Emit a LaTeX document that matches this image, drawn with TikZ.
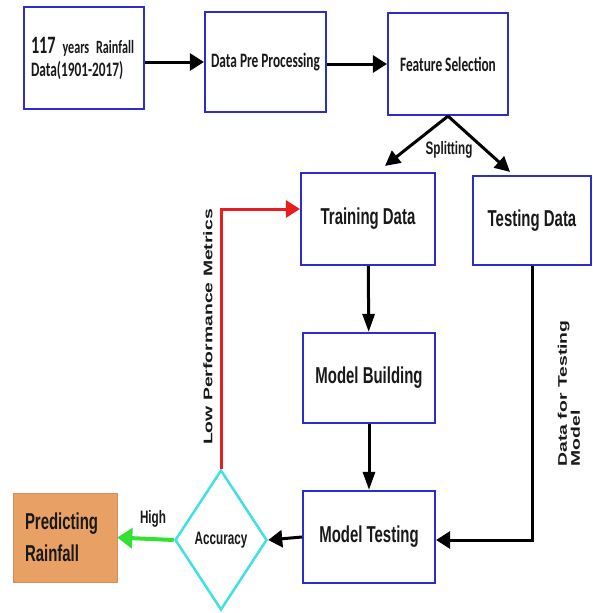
\documentclass[tikz,border=0pt]{standalone}
\usepackage{fontspec}
\usetikzlibrary{arrows.meta,shapes.geometric}
\newfontfamily\boxfont[FakeStretch=0.65]{Liberation Sans}
\newfontfamily\calfont[FakeStretch=0.65]{Carlito}
\newfontfamily\sidefont[FakeStretch=1.55]{Liberation Sans}
\definecolor{boxblue}{RGB}{45,45,205}
\definecolor{accyan}{RGB}{64,224,228}
\definecolor{predorange}{RGB}{232,160,100}
\definecolor{lowred}{RGB}{232,30,30}
\definecolor{highgreen}{RGB}{50,225,50}

\begin{document}
\begin{tikzpicture}[x=1pt,y=-1pt,
  stage/.style={draw=boxblue, line width=2.2pt, inner sep=0pt, text=black!90},
  big/.style={font=\boxfont\bfseries\fontsize{23}{26}\selectfont},
  small/.style={font=\boxfont\bfseries\fontsize{18}{20}\selectfont, text=black!90},
  top/.style={font=\calfont\bfseries\fontsize{20.5}{23}\selectfont},
  side/.style={font=\sidefont\bfseries\fontsize{12.5}{13}\selectfont, text=black!90},
  flow/.style={line width=3pt, -{Triangle[length=14pt,width=17pt]}},
  down/.style={line width=3pt, -{Triangle[length=18pt,width=12pt]}},
  fork/.style={line width=3pt, -{Triangle[length=15pt,width=15pt]}},
]
\fill[white] (0,0) rectangle (593,613);
\useasboundingbox (0,0) rectangle (593,613);

\node[stage, top, minimum width=120pt, minimum height=102pt, text width=106pt, align=left] (rain) at (84,58)
  {{\fontsize{25}{23}\selectfont 117} {\fontsize{18.7}{23}\selectfont years Rainfall}\\Data(1901-2017)};
\node[stage, top, minimum width=121pt, minimum height=100pt] (prep) at (265.5,62) {Data Pre Processing};
\node[stage, top, minimum width=120pt, minimum height=102pt] (feat) at (448,64) {Feature Selection};

\node[stage, big, minimum width=134pt, minimum height=92pt] (train) at (368,219) {Training Data};
\node[stage, big, minimum width=118pt, minimum height=89pt] (tdata) at (532,220.5) {Testing Data};
\node[stage, big, minimum width=132pt, minimum height=90pt] (build) at (369,378) {Model Building};
\node[stage, big, minimum width=132pt, minimum height=92pt] (mtest) at (369,537) {Model Testing};

\node[diamond, draw=accyan, line width=2.5pt, inner sep=0pt, minimum width=92pt, minimum height=140pt, small] (acc) at (221,540) {Accuracy};
\node[fill=predorange, draw=predorange!90!black, line width=0.6pt, inner sep=0pt, minimum width=104pt, minimum height=89pt,
  text width=80pt, align=left, font=\boxfont\bfseries\fontsize{23}{32}\selectfont, text=black!90] (pred) at (65,537.5) {Predicting\\Rainfall};

\node[small] (split) at (449,150) {Splitting};
\node[small] (high) at (153,519) {High};
\node[side, rotate=90] (low) at (208,327) {Low Performance Metrics};
\node[side, rotate=90, align=left] (dtest) at (569,393.5) {Data for Testing\\Model};

\draw[flow] (rain.east |- prep.west) -- (prep.west);
\draw[flow] (prep.east |- feat.west) -- (feat.west);
\draw[fork] (feat.south) -- ([xshift=17pt,yshift=6pt]train.north);
\draw[fork] (feat.south) -- ([xshift=-22pt,yshift=3pt]tdata.north);
\draw[down] (train) -- (build);
\draw[down] (build) -- (mtest);
\draw[flow] (tdata.south) |- ([yshift=-3pt]mtest.east);
\draw[flow] (mtest.west) -- (acc.east);
\draw[flow, highgreen, line width=4pt, -{Triangle[length=15pt,width=20pt]}] (acc.west) -- (pred.east);
\draw[flow, lowred] (acc.north) |- ([yshift=10pt]train.west);
\end{tikzpicture}
\end{document}
